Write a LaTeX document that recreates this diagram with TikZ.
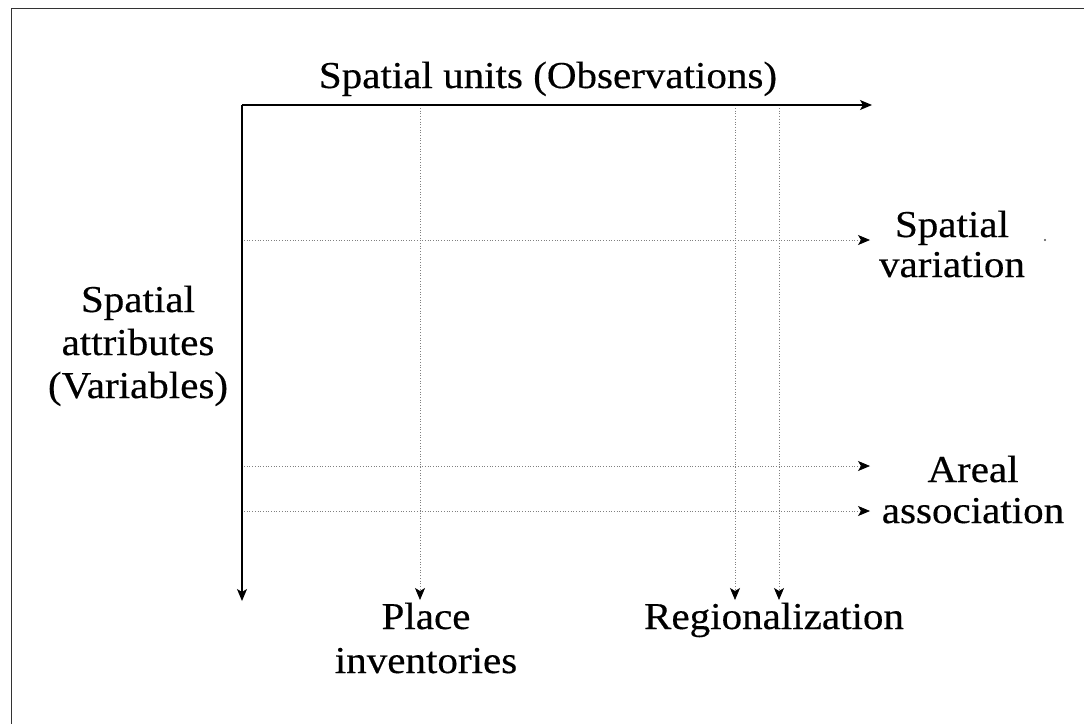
\documentclass[tikz,border=0pt]{standalone}
\usepackage{fontspec}
\setmainfont[FakeStretch=1.08,FakeBold=0.4]{Liberation Serif}
\usetikzlibrary{arrows.meta}
\begin{document}
\begin{tikzpicture}[x=1pt,y=-1pt,
  lbl/.style={font=\fontsize{38}{42}\selectfont, inner sep=0pt, align=center, anchor=base},
  axis/.style={line width=1.1pt, black, -{Stealth[length=12pt,width=10pt,inset=3pt]}},
  dotl/.style={line width=0.7pt, black!50, dash pattern=on 0.9pt off 1.8pt, -{Stealth[length=12pt,width=10pt,inset=3pt,color=black]}},
  frame/.style={line width=1pt, black!80}]
\useasboundingbox (0,0) rectangle (1084,724);
% frame
\coordinate (fTR) at (1084,8);
\coordinate (fTL) at (11,8);
\coordinate (fBL) at (11,724);
\draw[frame] (fTR) -- (fTL) -- (fBL);
% axes
\coordinate (O) at (242,105);
\coordinate (xEnd) at (872,105);
\coordinate (yEnd) at (242,601);
\draw[axis] (O) -- (xEnd);
\draw[axis] (O) -- (yEnd);
% dotted verticals
\coordinate (v1s) at (420,108); \coordinate (v1e) at (420,600);
\coordinate (v2s) at (735,108); \coordinate (v2e) at (735,600);
\coordinate (v3s) at (779,108); \coordinate (v3e) at (779,600);
\draw[dotl] (v1s) -- (v1e);
\draw[dotl] (v2s) -- (v2e);
\draw[dotl] (v3s) -- (v3e);
% dotted horizontals
\coordinate (h1s) at (244,240); \coordinate (h1e) at (870,240);
\coordinate (h2s) at (244,466); \coordinate (h2e) at (870,466);
\coordinate (h3s) at (244,511); \coordinate (h3e) at (870,511);
\draw[dotl] (h1s) -- (h1e);
\draw[dotl] (h2s) -- (h2e);
\draw[dotl] (h3s) -- (h3e);
% labels (base anchor = baseline of the last line)
\node[lbl] (units) at (548,88) {Spatial units (Observations)};
\node[lbl, font=\fontsize{38}{43}\selectfont] (attr) at (138,398) {Spatial\\attributes\\(Variables)};
\node[lbl, font=\fontsize{38}{40}\selectfont] (var) at (952,277) {Spatial\\variation};
\node[lbl, font=\fontsize{38}{41}\selectfont] (areal) at (973,523) {Areal\\association};
\node[lbl, font=\fontsize{38}{44}\selectfont] (place) at (426,673) {Place\\inventories};
\node[lbl] (reg) at (774,629) {Regionalization};
\fill[black!70] (1045,240) circle (1.1pt) coordinate (dot);
\end{tikzpicture}
\end{document}
